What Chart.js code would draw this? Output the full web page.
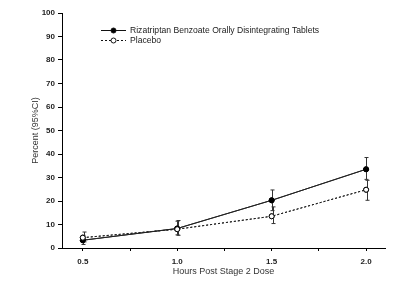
<!DOCTYPE html>
<html>
<head>
<meta charset="utf-8">
<script src="https://cdn.jsdelivr.net/npm/chart.js@4"></script>
<style>
  html, body { margin: 0; padding: 0; background: #fff; }
  #wrap { width: 400px; height: 288px; }
</style>
</head>
<body>
<div id="wrap"><canvas id="chart"></canvas></div>
<script>
// dados
const hours = [0.5, 1.0, 1.5, 2.0];
const xTickLabels = ['0.5', '1.0', '1.5', '2.0'];
const rizaValues = [3.3, 8.3, 20.3, 33.5];
const rizaLow = [1.5, 5.6, 15.9, 29.2];
const rizaHigh = [5.4, 11.4, 24.7, 38.5];
const placeboValues = [4.4, 8.0, 13.5, 24.8];
const placeboLow = [2.6, 5.4, 10.4, 20.3];
const placeboHigh = [6.8, 11.7, 17.5, 28.8];
const seriesLabels = ['Rizatriptan Benzoate Orally Disintegrating Tablets', 'Placebo'];

const FONT = "'Liberation Sans', Arial, sans-serif";

// barras de erro (IC 95%)
const errorBars = {
    id: 'errorBars',
    afterDatasetsDraw(chart) {
        const ctx = chart.ctx;
        const xs = chart.scales.x, ys = chart.scales.y;
        const bounds = [[rizaLow, rizaHigh], [placeboLow, placeboHigh]];
        ctx.save();
        ctx.strokeStyle = '#333';
        ctx.lineWidth = 1;
        bounds.forEach(([lo, hi], d) => {
            hours.forEach((h, i) => {
                const x = Math.round(xs.getPixelForValue(h)) + 0.5 + (d === 1 ? 1 : 0);
                const y1 = ys.getPixelForValue(lo[i]);
                const y2 = ys.getPixelForValue(hi[i]);
                ctx.beginPath();
                ctx.moveTo(x, y1); ctx.lineTo(x, y2);
                ctx.moveTo(x - 2, y1); ctx.lineTo(x + 2, y1);
                ctx.moveTo(x - 2, y2); ctx.lineTo(x + 2, y2);
                ctx.stroke();
            });
        });
        ctx.restore();
        // redesenha os pontos por cima
        chart.getSortedVisibleDatasetMetas().forEach(m => m.controller.draw());
    }
};

// legenda dentro da área do gráfico
const innerLegend = {
    id: 'innerLegend',
    afterDraw(chart) {
        const ctx = chart.ctx;
        ctx.save();
        ctx.font = '8.6px ' + FONT;
        ctx.textBaseline = 'middle';
        chart.data.datasets.forEach((ds, i) => {
            const y = 30 + i * 10;
            ctx.strokeStyle = '#111';
            ctx.lineWidth = 1;
            ctx.setLineDash(ds.borderDash || []);
            ctx.beginPath();
            ctx.moveTo(101, y + 0.5); ctx.lineTo(126, y + 0.5);
            ctx.stroke();
            ctx.setLineDash([]);
            ctx.beginPath();
            ctx.arc(113.5, y + 0.5, 2.5, 0, Math.PI * 2);
            ctx.fillStyle = ds.pointBackgroundColor;
            ctx.fill();
            ctx.stroke();
            ctx.fillStyle = '#222';
            ctx.fillText(ds.label, 130, y + 0.5);
        });
        ctx.restore();
    }
};

const ctx = document.getElementById('chart').getContext('2d');
new Chart(ctx, {
    type: 'line',
    data: {
        datasets: [{
            label: seriesLabels[0],
            data: hours.map((h, i) => ({ x: h, y: rizaValues[i] })),
            borderColor: '#222',
            borderWidth: 1,
            pointBackgroundColor: '#000',
            pointBorderColor: '#000',
            pointRadius: 2.5,
            tension: 0
        }, {
            label: seriesLabels[1],
            data: hours.map((h, i) => ({ x: h, y: placeboValues[i] })),
            borderColor: '#222',
            borderWidth: 1,
            borderDash: [2, 2],
            pointBackgroundColor: '#fff',
            pointBorderColor: '#000',
            pointRadius: 2.5,
            tension: 0
        }]
    },
    options: {
        responsive: true,
        maintainAspectRatio: false,
        animation: false,
        layout: { padding: { top: 13, right: 15, left: 30, bottom: 11 } },
        plugins: {
            legend: { display: false },
            tooltip: { enabled: false }
        },
        scales: {
            x: {
                type: 'linear',
                min: 0.39,
                max: 2.1,
                afterBuildTicks(scale) {
                    scale.ticks = [0.5, 0.75, 1.0, 1.25, 1.5, 1.75, 2.0].map(v => ({ value: v }));
                },
                afterFit(scale) { scale.height = 29; },
                border: { display: true, color: '#000', width: 1 },
                grid: { drawOnChartArea: false, drawTicks: true, tickLength: 3, color: '#000' },
                ticks: {
                    autoSkip: false,
                    maxRotation: 0,
                    padding: 6,
                    color: '#222',
                    font: { family: FONT, size: 8, weight: 'bold' },
                    callback: v => {
                        const i = hours.indexOf(v);
                        return i >= 0 ? xTickLabels[i] : '';
                    }
                },
                title: {
                    display: true,
                    text: 'Hours Post Stage 2 Dose',
                    color: '#333',
                    font: { family: FONT, size: 9 },
                    padding: { top: 3, bottom: 0 }
                }
            },
            y: {
                min: 0,
                max: 100,
                afterFit(scale) { scale.width = 32; },
                border: { display: true, color: '#000', width: 1 },
                grid: { drawOnChartArea: false, drawTicks: true, tickLength: 4, color: '#000' },
                ticks: {
                    stepSize: 5,
                    padding: 3,
                    color: '#222',
                    font: { family: FONT, size: 8, weight: 'bold' },
                    callback: v => (v % 10 === 0 ? String(v) : '')
                },
                title: {
                    display: true,
                    text: 'Percent (95%CI)',
                    color: '#333',
                    font: { family: FONT, size: 9 },
                    padding: { top: 0, bottom: 0 }
                }
            }
        }
    },
    plugins: [errorBars, innerLegend]
});
</script>
</body>
</html>
